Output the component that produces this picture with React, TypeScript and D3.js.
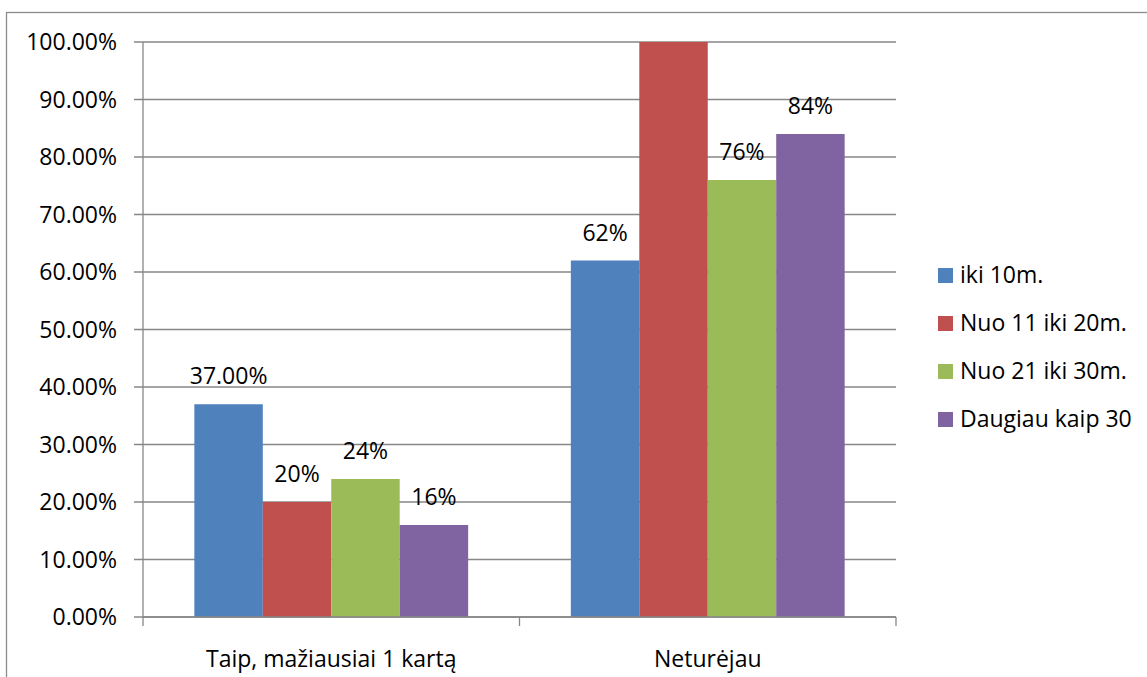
import React from "react";
import * as d3 from "d3";

// Survey answers by years of driving experience
const categories = ["Taip, mažiausiai 1 kartą", "Neturėjau"];
const seriesNames = ["iki 10m.", "Nuo 11 iki 20m.", "Nuo 21 iki 30m.", "Daugiau kaip 30"];
const seriesColors = ["#4f81bd", "#c0504d", "#9bbb59", "#8064a2"];
const iki10 = [37, 62];
const nuo11iki20 = [20, 100];
const nuo21iki30 = [24, 76];
const daugiau30 = [16, 84];
// Label text per bar; null means the bar carries no label
const iki10Labels = ["37.00%", "62%"];
const nuo11iki20Labels = ["20%", null];
const nuo21iki30Labels = ["24%", "76%"];
const daugiau30Labels = ["16%", "84%"];
const yTicks = [0, 10, 20, 30, 40, 50, 60, 70, 80, 90, 100];

const seriesValues = [iki10, nuo11iki20, nuo21iki30, daugiau30];
const seriesLabels = [iki10Labels, nuo11iki20Labels, nuo21iki30Labels, daugiau30Labels];

const W = 1147;
const H = 677;
const plot = { left: 143, right: 896, top: 42, bottom: 617 };
const FONT = "'Open Sans', 'Liberation Sans', sans-serif";
const FS = 23;
const GRID = "#878787";

export default function App() {
  const y = d3.scaleLinear().domain([0, 100]).range([plot.bottom, plot.top]);
  const x0 = d3
    .scaleBand<string>()
    .domain(categories)
    .range([plot.left, plot.right])
    .paddingInner(0)
    .paddingOuter(0);
  // bars take 4 of 5.5 bar-widths in each category slot
  const innerW = (x0.bandwidth() * 4) / 5.5;
  const x1 = d3
    .scaleBand<number>()
    .domain(d3.range(seriesNames.length))
    .range([0, innerW])
    .padding(0);
  const groupOffset = (x0.bandwidth() - innerW) / 2;

  const boundaries = [plot.left, ...categories.map((c) => (x0(c) as number) + x0.bandwidth())];

  return (
    <svg
      width={W}
      height={H}
      style={{ position: "fixed", left: 0, top: 0, background: "#fff" }}
      fontFamily={FONT}
    >
      <rect x={0} y={0} width={W} height={H} fill="#fff" />
      {/* chart frame */}
      <rect x={6.5} y={12.5} width={W + 10} height={H + 10} fill="none" stroke="#8c8c8c" strokeWidth={1.3} />

      {/* horizontal gridlines and y ticks */}
      {yTicks.map((t) => (
        <g key={t}>
          <line x1={plot.left - 9} x2={plot.right} y1={y(t)} y2={y(t)} stroke={GRID} strokeWidth={1.3} />
          <text
            x={plot.left - 26}
            y={y(t)}
            dy="0.36em"
            textAnchor="end"
            fontSize={FS}
            fill="#000"
          >
            {t.toFixed(2)}%
          </text>
        </g>
      ))}

      {/* y axis */}
      <line x1={plot.left} x2={plot.left} y1={plot.top} y2={plot.bottom} stroke={GRID} strokeWidth={1.3} />

      {/* bars */}
      {categories.map((c, ci) => (
        <g key={c} transform={`translate(${(x0(c) as number) + groupOffset},0)`}>
          {seriesValues.map((vals, si) => (
            <rect
              key={si}
              x={x1(si) as number}
              y={y(vals[ci])}
              width={x1.bandwidth()}
              height={y(0) - y(vals[ci])}
              fill={seriesColors[si]}
            />
          ))}
          {seriesValues.map((vals, si) =>
            seriesLabels[si][ci] ? (
              <text
                key={"l" + si}
                x={(x1(si) as number) + x1.bandwidth() / 2}
                y={y(vals[ci]) - 20}
                textAnchor="middle"
                fontSize={FS}
                fill="#000"
              >
                {seriesLabels[si][ci]}
              </text>
            ) : null
          )}
        </g>
      ))}

      {/* x axis with category boundary ticks */}
      <line x1={plot.left} x2={plot.right} y1={plot.bottom} y2={plot.bottom} stroke={GRID} strokeWidth={1.3} />
      {boundaries.map((b, i) => (
        <line key={i} x1={b} x2={b} y1={plot.bottom} y2={plot.bottom + 9} stroke={GRID} strokeWidth={1.3} />
      ))}
      {categories.map((c) => (
        <text
          key={c}
          x={(x0(c) as number) + x0.bandwidth() / 2}
          y={667}
          textAnchor="middle"
          fontSize={FS}
          fill="#000"
        >
          {c}
        </text>
      ))}

      {/* legend */}
      {seriesNames.map((n, i) => (
        <g key={n} transform={`translate(938,${268 + i * 48})`}>
          <rect x={0} y={0} width={15} height={15} fill={seriesColors[i]} />
          <text x={22} y={15} fontSize={FS} fill="#000">
            {n}
          </text>
        </g>
      ))}
    </svg>
  );
}
